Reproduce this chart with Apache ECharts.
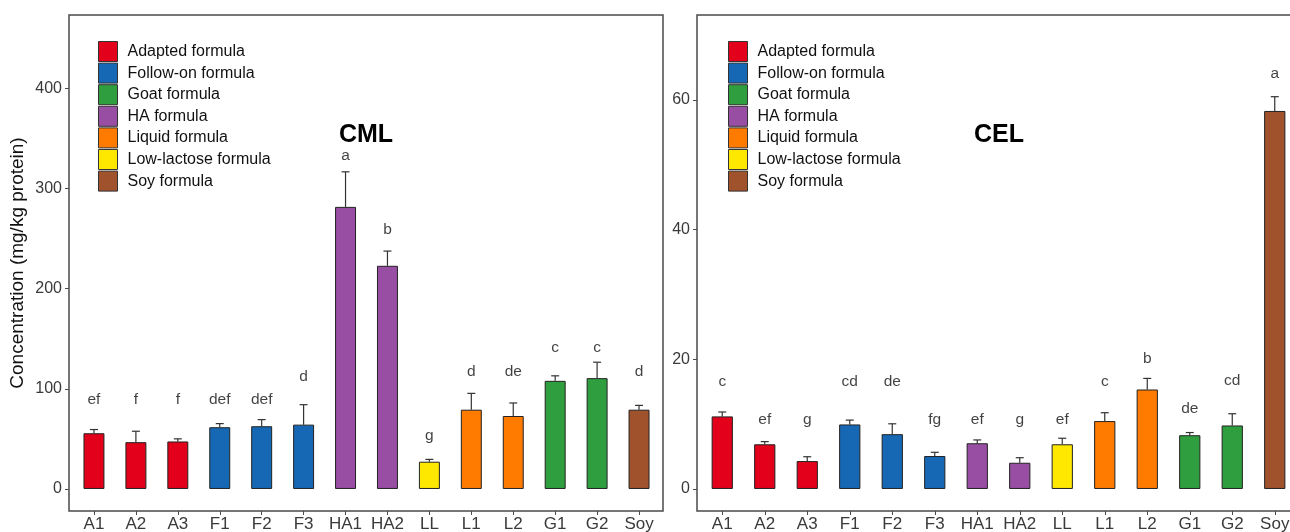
<!DOCTYPE html>
<html>
<head>
<meta charset="utf-8">
<script src="https://cdn.jsdelivr.net/npm/echarts@6/dist/echarts.min.js"></script>
<style>
  html, body { margin: 0; padding: 0; background: #fff; }
  #chart { width: 1290px; height: 532px; }
</style>
</head>
<body>
<div id="chart"></div>
<script>
const categories = ['A1', 'A2', 'A3', 'F1', 'F2', 'F3', 'HA1', 'HA2', 'LL', 'L1', 'L2', 'G1', 'G2', 'Soy'];
// group index of each category (into groupNames)
const groupOf = [0, 0, 0, 1, 1, 1, 3, 3, 5, 4, 4, 2, 2, 6];
const groupNames = ['Adapted formula', 'Follow-on formula', 'Goat formula', 'HA formula', 'Liquid formula', 'Low-lactose formula', 'Soy formula'];
const groupColors = ['#E2001A', '#1668B4', '#2E9E3E', '#984EA3', '#FF7B00', '#FFE800', '#A0522D'];

// CML (mg/kg protein)
const cmlMean = [55.6, 46.7, 47.4, 61.6, 62.6, 64.2, 281.5, 222.7, 27.2, 79.1, 72.8, 107.9, 110.6, 79.1];
const cmlUpper = [59.3, 57.6, 50.0, 65.2, 69.2, 84.1, 316.5, 237.4, 29.5, 95.4, 85.8, 112.9, 126.5, 83.4];
const cmlLetters = ['ef', 'f', 'f', 'def', 'def', 'd', 'a', 'b', 'g', 'd', 'de', 'c', 'c', 'd'];
const cmlLetterY = [88.8, 88.8, 88.8, 88.8, 88.8, 111.7, 332.5, 259, 53, 116.7, 116.7, 141.3, 141.3, 116.7];
const cmlTicks = [0, 100, 200, 300, 400];

// CEL (mg/kg protein)
const celMean = [11.19, 6.89, 4.3, 9.95, 8.45, 5.08, 7.05, 4.04, 6.89, 10.47, 15.34, 8.29, 9.79, 58.3];
const celUpper = [11.87, 7.3, 4.97, 10.62, 10.05, 5.65, 7.56, 4.82, 7.82, 11.76, 17.05, 8.7, 11.6, 60.5];
const celLetters = ['c', 'ef', 'g', 'cd', 'de', 'fg', 'ef', 'g', 'ef', 'c', 'b', 'de', 'cd', 'a'];
const celLetterY = [16.55, 10.64, 10.64, 16.55, 16.55, 10.64, 10.64, 10.64, 10.64, 16.55, 20.16, 12.3, 16.7, 64.0];
const celTicks = [0, 20, 40, 60];

const FONT = 'Liberation Sans, Arial, sans-serif';
const AXIS_COLOR = '#4a4a4a';

const chart = echarts.init(document.getElementById('chart'));

// grids 0/1 hold the data (ggplot-like padding inside the panel), grids 2/3 only draw the panel box
function barSeries(means, idx) {
  return groupNames.map((name, g) => ({
    name,
    type: 'bar',
    xAxisIndex: idx,
    yAxisIndex: idx,
    barWidth: '50%',
    barGap: '-100%',
    itemStyle: { color: groupColors[g], borderColor: '#222', borderWidth: 1 },
    data: means.map((v, i) => (groupOf[i] === g ? v : '-'))
  }));
}

function errorSeries(means, upper, idx) {
  return {
    type: 'custom',
    xAxisIndex: idx,
    yAxisIndex: idx,
    silent: true,
    z: 1,
    data: means.map((v, i) => [i, v, upper[i]]),
    renderItem: (params, api) => {
      const base = api.coord([api.value(0), api.value(1)]);
      const top = api.coord([api.value(0), api.value(2)]);
      const half = 4;
      const style = { stroke: '#333', lineWidth: 1.2 };
      return {
        type: 'group',
        children: [
          { type: 'line', shape: { x1: base[0], y1: base[1], x2: top[0], y2: top[1] }, style },
          { type: 'line', shape: { x1: top[0] - half, y1: top[1], x2: top[0] + half, y2: top[1] }, style }
        ]
      };
    }
  };
}

function letterSeries(letters, ys, idx) {
  return {
    type: 'scatter',
    xAxisIndex: idx,
    yAxisIndex: idx,
    symbolSize: 0,
    silent: true,
    data: letters.map((t, i) => [i, ys[i], t]),
    label: {
      show: true,
      position: 'inside',
      formatter: p => p.value[2],
      color: '#111',
      fontSize: 15.5,
      fontFamily: FONT
    }
  };
}

function xAxis(idx) {
  return {
    type: 'category',
    gridIndex: idx,
    data: categories,
    axisLine: { show: false, onZero: false },
    axisTick: { show: true, alignWithLabel: true, length: 4, lineStyle: { color: AXIS_COLOR } },
    axisLabel: { color: '#3a3a3a', fontSize: 17, fontFamily: FONT, margin: 5, interval: 0 }
  };
}

function yAxis(idx, min, max, ticks, name, offset) {
  return {
    type: 'value',
    gridIndex: idx,
    min,
    max,
    offset,
    name,
    nameLocation: 'middle',
    nameGap: 42,
    nameTextStyle: { color: '#111', fontSize: 19, fontFamily: FONT },
    splitLine: { show: false },
    axisLine: { show: false },
    axisTick: { show: true, length: 4, customValues: ticks, lineStyle: { color: AXIS_COLOR } },
    axisLabel: { color: '#3a3a3a', fontSize: 16, fontFamily: FONT, margin: 7, customValues: ticks }
  };
}

function legend(left) {
  return {
    orient: 'vertical',
    left,
    top: 41,
    padding: 0,
    itemWidth: 19,
    itemHeight: 20,
    itemGap: 0.6,
    icon: 'rect',
    selectedMode: false,
    data: groupNames,
    itemStyle: { borderColor: '#333', borderWidth: 1 },
    textStyle: { color: '#111', fontSize: 16, fontFamily: FONT, padding: [0, 0, 0, 5] }
  };
}

const option = {
  animation: false,
  backgroundColor: '#fff',
  grid: [
    { left: 73, top: 15, width: 587, height: 496, outerBoundsMode: 'none' },
    { left: 701, top: 15, width: 595, height: 496, outerBoundsMode: 'none' },
    { left: 69, top: 15, width: 594, height: 496, show: true, borderColor: AXIS_COLOR, borderWidth: 1.5, outerBoundsMode: 'none' },
    { left: 697, top: 15, width: 620, height: 496, show: true, borderColor: AXIS_COLOR, borderWidth: 1.5, outerBoundsMode: 'none' }
  ],
  xAxis: [
    xAxis(0), xAxis(1),
    { type: 'value', gridIndex: 2, show: false },
    { type: 'value', gridIndex: 3, show: false }
  ],
  yAxis: [
    yAxis(0, -22, 473, cmlTicks, 'Concentration (mg/kg protein)', 4),
    yAxis(1, -3.4, 73.1, celTicks, '', 4),
    { type: 'value', gridIndex: 2, show: false },
    { type: 'value', gridIndex: 3, show: false }
  ],
  legend: [legend(98), legend(728)],
  graphic: [
    { type: 'text', x: 366, y: 135, style: { text: 'CML', font: 'bold 25px ' + FONT, fill: '#000', textAlign: 'center', textVerticalAlign: 'middle' } },
    { type: 'text', x: 999, y: 135, style: { text: 'CEL', font: 'bold 25px ' + FONT, fill: '#000', textAlign: 'center', textVerticalAlign: 'middle' } }
  ],
  series: [
    ...barSeries(cmlMean, 0),
    errorSeries(cmlMean, cmlUpper, 0),
    letterSeries(cmlLetters, cmlLetterY, 0),
    ...barSeries(celMean, 1),
    errorSeries(celMean, celUpper, 1),
    letterSeries(celLetters, celLetterY, 1)
  ]
};

chart.setOption(option);
</script>
</body>
</html>
